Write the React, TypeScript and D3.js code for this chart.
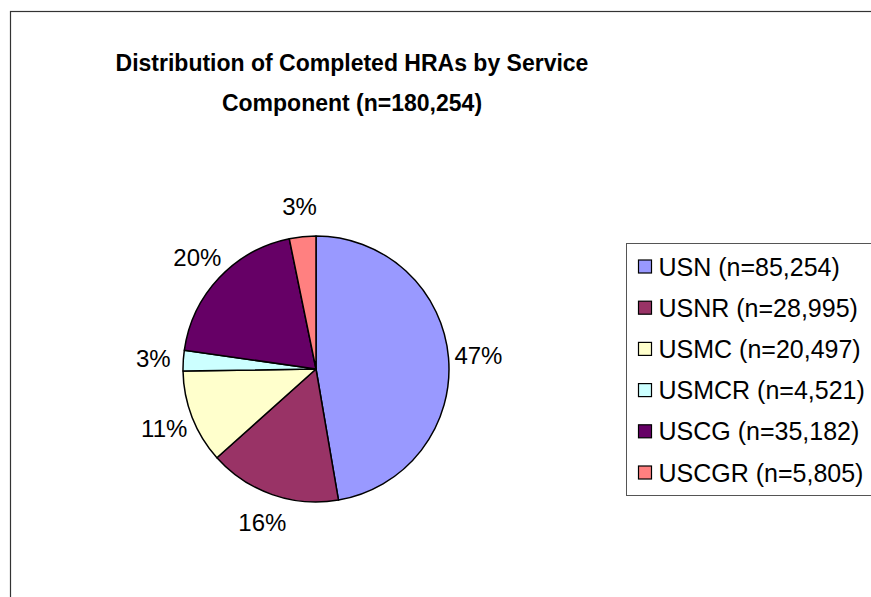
import React, { useEffect, useRef } from "react";
import * as d3 from "d3";

// slice data, clockwise from 12 o'clock
const components = ["USN", "USNR", "USMC", "USMCR", "USCG", "USCGR"];
const counts = [85254, 28995, 20497, 4521, 35182, 5805];
const pctLabels = ["47%", "16%", "11%", "3%", "20%", "3%"];
const colors = ["#9999FF", "#993366", "#FFFFCC", "#CCFFFF", "#660066", "#FF8080"];
const titleLines = ["Distribution of Completed HRAs by Service", "Component (n=180,254)"];

const FONT = "Arial, 'Liberation Sans', sans-serif";

export default function App() {
  const ref = useRef<SVGSVGElement | null>(null);

  useEffect(() => {
    const svg = d3.select(ref.current);
    svg.selectAll("*").remove();

    const width = 871;
    const height = 597;
    const cx = 316;
    const cy = 369;
    const radius = 133;

    svg.append("rect")
      .attr("width", width)
      .attr("height", height)
      .attr("fill", "#fff");

    // chart area border (runs off the right and bottom of the picture)
    svg.append("rect")
      .attr("x", 10.5)
      .attr("y", 11.5)
      .attr("width", 1000)
      .attr("height", 800)
      .attr("fill", "none")
      .attr("stroke", "#333")
      .attr("stroke-width", 1.2);

    svg.append("text")
      .attr("x", 352)
      .attr("y", 71)
      .attr("text-anchor", "middle")
      .style("font-family", FONT)
      .style("font-weight", "bold")
      .style("font-size", "23px")
      .selectAll("tspan")
      .data(titleLines)
      .join("tspan")
      .attr("x", 352)
      .attr("dy", (d, i) => (i === 0 ? 0 : 40))
      .text(d => d);

    const data = components.map((c, i) => ({ name: c, value: counts[i], label: pctLabels[i], color: colors[i] }));

    const pie = d3.pie<any>()
      .sort(null)
      .value(d => d.value);

    const arcs = pie(data);

    const arc = d3.arc<any>()
      .innerRadius(0)
      .outerRadius(radius);

    const g = svg.append("g")
      .attr("transform", `translate(${cx},${cy})`);

    g.selectAll("path")
      .data(arcs)
      .join("path")
      .attr("d", arc)
      .attr("fill", d => d.data.color)
      .attr("stroke", "#000")
      .attr("stroke-width", 1.5)
      .attr("stroke-linejoin", "round");

    const labelR = radius + 30;
    g.selectAll("text")
      .data(arcs)
      .join("text")
      .attr("x", d => Math.sin((d.startAngle + d.endAngle) / 2) * labelR)
      .attr("y", d => -Math.cos((d.startAngle + d.endAngle) / 2) * labelR)
      .attr("text-anchor", "middle")
      .attr("dominant-baseline", "central")
      .style("font-family", FONT)
      .style("font-size", "24px")
      .attr("fill", "#000")
      .text(d => d.data.label);

    // legend
    const legend = svg.append("g")
      .attr("transform", "translate(626.5, 243.5)");

    legend.append("rect")
      .attr("width", 400)
      .attr("height", 252)
      .attr("fill", "#fff")
      .attr("stroke", "#555")
      .attr("stroke-width", 1);

    const rowY = d3.scaleLinear().domain([0, 5]).range([23, 229]);

    data.forEach((d, i) => {
      legend.append("rect")
        .attr("x", 12)
        .attr("y", rowY(i) - 6.5)
        .attr("width", 13)
        .attr("height", 13)
        .attr("fill", d.color)
        .attr("stroke", "#000")
        .attr("stroke-width", 1.2);

      legend.append("text")
        .attr("x", 32)
        .attr("y", rowY(i))
        .attr("dominant-baseline", "central")
        .style("font-family", FONT)
        .style("font-size", "25px")
        .text(`${d.name} (n=${d3.format(",")(d.value)})`);
    });
  }, []);

  return (
    <div style={{ position: "absolute", left: 0, top: 0 }}>
      <svg ref={ref} width={871} height={597} style={{ display: "block" }} />
    </div>
  );
}
